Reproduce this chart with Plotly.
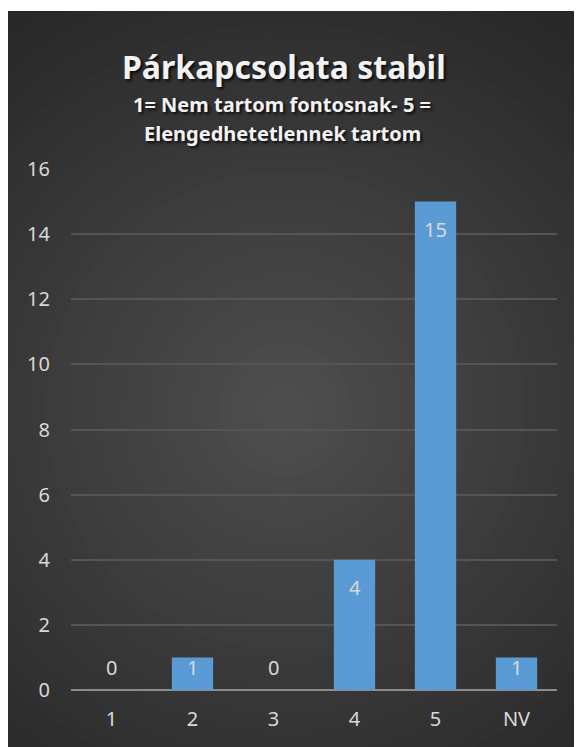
import plotly.graph_objects as go

# chart data
categories = ["1", "2", "3", "4", "5", "NV"]
counts = [0, 1, 0, 4, 15, 1]
y_ticks = [0, 2, 4, 6, 8, 10, 12, 14, 16]
Y_MAX = 16

TITLE = "Párkapcsolata stabil"
SUBTITLE_1 = "1= Nem tartom fontosnak- 5 ="
SUBTITLE_2 = "Elengedhetetlennek tartom"

# the page body adds an 8px margin, so the figure is drawn 8px smaller
OFF = 8
W, H = 582 - OFF, 747 - OFF
M_L, M_R, M_T, M_B = 71 - OFF, 25, 169 - OFF, 57
PLOT_W = W - M_L - M_R
PLOT_H = H - M_T - M_B

FONT = "Noto Sans"
LABEL_COLOR = "#d9d9d9"
BAR_COLOR = "#5b9bd5"


def px_x(x):
    """Screen x (as in the reference) to paper x."""
    return (x - OFF - M_L) / PLOT_W


def px_y(y):
    """Screen y (as in the reference) to paper y."""
    return (H - M_B - (y - OFF)) / PLOT_H


def mix(c1, c2, t):
    a = [int(c1[i:i + 2], 16) for i in (1, 3, 5)]
    b = [int(c2[i:i + 2], 16) for i in (1, 3, 5)]
    return "#" + "".join(f"{round(p + (q - p) * t):02x}" for p, q in zip(a, b))


# dark panel with a soft radial glow
shapes = [dict(type="rect", xref="paper", yref="paper", layer="below",
               x0=px_x(0), x1=px_x(700), y0=px_y(800), y1=px_y(11),
               fillcolor="#282828", line_width=0)]
cx, cy, R, steps = 285, 410, 480, 36
for i in range(steps):
    r = R * (1 - i / steps)
    shapes.append(dict(type="circle", xref="paper", yref="paper", layer="below",
                       x0=px_x(cx - r), x1=px_x(cx + r),
                       y0=px_y(cy + r), y1=px_y(cy - r),
                       fillcolor=mix("#4f4f4f", "#282828", r / R), line_width=0))
# white strip above the panel
shapes.append(dict(type="rect", xref="paper", yref="paper", layer="below",
                   x0=px_x(-50), x1=px_x(700), y0=px_y(11), y1=px_y(-300),
                   fillcolor="white", line_width=0))

fig = go.Figure(
    go.Bar(
        x=categories,
        y=counts,
        marker=dict(color=BAR_COLOR, line_width=0),
        hovertemplate="%{x}: %{y}<extra></extra>",
    )
)

# value labels sit inside the top of each bar, or just above the axis for short bars
# (category positions are given by index, since "1" and "3" would be read as indices)
unit_px = PLOT_H / Y_MAX
value_labels = [
    dict(x=i, y=v, text=str(v), showarrow=False, yanchor="middle",
         yshift=-min(28, v * unit_px - 23),
         font=dict(family=FONT, size=20, color=LABEL_COLOR))
    for i, v in enumerate(counts)
]

title_shadow = "2px 2px 3px rgba(0,0,0,0.8)"
title_font = dict(family=FONT, color="#f2f2f2", shadow=title_shadow, weight=700)
fig.update_layout(
    width=W,
    height=H,
    margin=dict(l=M_L, r=M_R, t=M_T, b=M_B),
    paper_bgcolor="#282828",
    plot_bgcolor="rgba(0,0,0,0)",
    showlegend=False,
    bargap=0.49,
    shapes=shapes,
    annotations=[
        dict(text=TITLE, x=px_x(284), y=px_y(66),
             xref="paper", yref="paper", showarrow=False,
             xanchor="center", yanchor="middle",
             font=dict(title_font, size=32)),
        dict(text=SUBTITLE_1, x=px_x(282), y=px_y(105),
             xref="paper", yref="paper", showarrow=False,
             xanchor="center", yanchor="middle",
             font=dict(title_font, size=20)),
        dict(text=SUBTITLE_2, x=px_x(282), y=px_y(133),
             xref="paper", yref="paper", showarrow=False,
             xanchor="center", yanchor="middle",
             font=dict(title_font, size=20)),
    ] + value_labels,
)

fig.update_xaxes(
    type="category",
    showgrid=False,
    showline=False,
    zeroline=False,
    ticks="",
    ticklabelstandoff=15,
    tickfont=dict(family=FONT, size=20, color=LABEL_COLOR),
)
fig.update_yaxes(
    range=[0, Y_MAX],
    tickvals=y_ticks,
    showgrid=True,
    gridcolor="#555555",
    gridwidth=1.5,
    zeroline=True,
    zerolinecolor="#8c8c8c",
    zerolinewidth=2,
    showline=False,
    ticks="",
    ticklabelstandoff=20,
    tickfont=dict(family=FONT, size=20, color=LABEL_COLOR),
)

fig.write_html("out.html")
